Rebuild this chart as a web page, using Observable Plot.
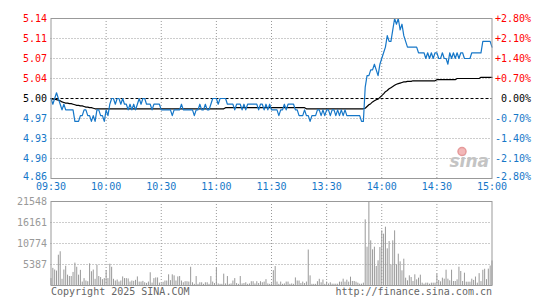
<!DOCTYPE html>
<html><head><meta charset="utf-8">
<script src="https://cdn.jsdelivr.net/npm/d3@7"></script>
<script src="https://cdn.jsdelivr.net/npm/@observablehq/plot@0.6"></script>
<style>
body{margin:0;background:#fff;}
#wrap{position:relative;width:545px;height:300px;overflow:hidden;background:#fff;font-family:"DejaVu Sans Mono",monospace;}
#c1{position:absolute;left:0;top:0;}
#c2{position:absolute;left:0;top:195px;}
.h{position:absolute;top:3px;font-size:10px;line-height:14px;white-space:nowrap;}
.sw{display:inline-block;width:10px;height:3px;vertical-align:middle;margin-right:5px;}
</style></head>
<body><div id="wrap">
<div class="h" style="left:50px">sz300332</div>
<div class="h" style="left:118px;font-family:'Noto Sans CJK SC';font-size:12px;">天壕能源</div>
<div class="h" style="left:200px;font-family:'Noto Sans CJK SC';font-size:12px;color:#1677c8"><span class="sw" style="background:#1677c8"></span>价格</div>
<div class="h" style="left:249px;font-family:'Noto Sans CJK SC';font-size:12px;color:#000"><span class="sw" style="background:#000"></span>均线</div>
<div class="h" style="right:54px">2025-06-26 15:00:00</div>
<div id="c1"></div><div id="c2"></div>
</div>
<script>
const blue = "#1677c8";
const timeTicks = [0,30,60,90,120,150,180,210,240];
const timeLabels = ["09:30","10:00","10:30","11:00","11:30","13:30","14:00","14:30","15:00"];
const priceTicks = [4.86,4.895,4.93,4.965,5.00,5.035,5.07,5.105,5.14];
const priceLabels = ["4.86","4.90","4.93","4.97","5.00","5.04","5.07","5.11","5.14"];
const pctLabels = ["-2.80%","-2.10%","-1.40%","-0.70%","0.00%","+0.70%","+1.40%","+2.10%","+2.80%"];
const prevClose = 5.00;
const volTicks = [5387,10774,16161,21548];

const price = [
5.00,4.99,5.00,5.01,5.00,4.99,4.98,4.99,4.98,4.98,
4.98,4.98,4.98,4.96,4.96,4.96,4.97,4.97,4.98,4.98,
4.97,4.97,4.96,4.97,4.96,4.98,4.98,4.97,4.97,4.96,
4.98,4.97,4.99,5.00,5.00,4.99,5.00,5.00,4.99,5.00,
4.99,4.99,4.98,4.99,4.98,4.99,4.98,4.99,5.00,4.99,
5.00,5.00,4.99,4.99,4.99,4.98,4.99,4.99,4.99,4.99,
4.98,4.98,4.98,4.98,4.98,4.98,4.97,4.98,4.98,4.98,
4.98,4.99,4.98,4.98,4.98,4.98,4.98,4.98,4.97,4.98,
4.98,4.99,4.98,4.98,4.99,4.98,4.98,4.99,5.00,5.00,
5.00,4.99,5.00,5.00,5.00,5.00,4.99,4.99,4.99,4.99,
4.98,4.99,4.99,4.99,4.98,4.99,4.98,4.99,4.99,4.99,
4.99,4.99,4.99,4.98,4.99,4.99,4.98,4.99,4.98,4.99,
4.98,4.98,4.98,4.98,4.97,4.98,4.98,4.99,4.98,4.99,
4.99,4.99,4.99,4.98,4.98,4.97,4.97,4.97,4.98,4.97,
4.97,4.96,4.97,4.97,4.97,4.98,4.98,4.97,4.98,4.97,
4.98,4.98,4.97,4.98,4.98,4.97,4.98,4.97,4.98,4.97,
4.98,4.97,4.97,4.97,4.97,4.97,4.97,4.97,4.97,4.96,
4.96,5.02,5.04,5.04,5.05,5.05,5.06,5.05,5.04,5.06,
5.07,5.08,5.09,5.11,5.10,5.10,5.12,5.14,5.13,5.14,
5.12,5.13,5.11,5.10,5.09,5.09,5.09,5.09,5.09,5.09,
5.08,5.08,5.08,5.08,5.07,5.08,5.07,5.08,5.07,5.08,
5.08,5.07,5.07,5.08,5.07,5.07,5.06,5.08,5.07,5.08,
5.07,5.08,5.07,5.08,5.08,5.07,5.07,5.07,5.07,5.08,
5.08,5.08,5.08,5.08,5.08,5.10,5.10,5.10,5.10,5.10,
5.09
];

const avg = [
5.000,4.999,4.999,4.998,4.997,4.996,4.994,4.993,4.992,4.992,
4.991,4.991,4.990,4.989,4.988,4.988,4.987,4.987,4.986,4.985,
4.985,4.984,4.984,4.983,4.982,4.982,4.982,4.982,4.982,4.982,
4.982,4.982,4.982,4.982,4.982,4.982,4.982,4.982,4.982,4.982,
4.982,4.982,4.982,4.982,4.982,4.982,4.982,4.982,4.982,4.982,
4.982,4.982,4.982,4.982,4.982,4.982,4.982,4.982,4.982,4.982,
4.982,4.982,4.982,4.982,4.982,4.982,4.982,4.982,4.982,4.982,
4.982,4.982,4.982,4.982,4.982,4.982,4.982,4.982,4.982,4.982,
4.982,4.982,4.982,4.982,4.982,4.982,4.982,4.982,4.982,4.982,
4.982,4.982,4.982,4.982,4.982,4.984,4.984,4.984,4.984,4.984,
4.984,4.984,4.984,4.984,4.984,4.984,4.984,4.984,4.984,4.984,
4.984,4.984,4.984,4.984,4.984,4.984,4.984,4.984,4.984,4.984,
4.984,4.984,4.984,4.984,4.984,4.984,4.984,4.984,4.984,4.984,
4.984,4.984,4.984,4.984,4.984,4.984,4.984,4.984,4.984,4.982,
4.982,4.982,4.982,4.982,4.982,4.982,4.982,4.982,4.982,4.982,
4.982,4.982,4.982,4.982,4.982,4.982,4.982,4.982,4.982,4.982,
4.982,4.982,4.982,4.982,4.982,4.982,4.982,4.982,4.982,4.982,
4.982,4.983,4.986,4.989,4.991,4.994,4.996,4.998,4.999,5.002,
5.005,5.008,5.012,5.014,5.017,5.019,5.021,5.023,5.025,5.026,
5.027,5.028,5.029,5.029,5.030,5.030,5.030,5.031,5.031,5.031,
5.031,5.031,5.031,5.031,5.031,5.031,5.031,5.031,5.031,5.031,
5.033,5.033,5.033,5.033,5.033,5.033,5.033,5.033,5.033,5.033,
5.033,5.035,5.035,5.035,5.035,5.035,5.035,5.035,5.035,5.035,
5.035,5.035,5.035,5.035,5.037,5.037,5.037,5.037,5.037,5.037,
5.037
];

const volume = [
1770,4400,3970,3700,7770,8650,1590,3970,4940,2650,
2300,2300,3350,5740,4680,2650,3880,880,1770,1150,
970,5560,3530,3970,1590,5210,2300,2030,1500,1770,
3800,1770,5470,4680,1590,1150,1410,880,1150,2200,
1770,1770,1680,880,1150,1060,1320,2200,880,880,
1060,700,530,880,3270,620,1770,1940,1940,620,
440,800,1150,1150,2740,1240,2740,2470,1150,2200,
2300,1150,700,970,970,880,4680,700,300,2300,
300,700,700,300,700,700,300,2300,880,500,
4400,400,300,300,2910,400,2300,300,400,1150,
1770,500,300,2300,400,500,700,300,400,970,
970,400,970,500,970,700,880,1500,400,300,
400,3800,4860,880,300,880,300,400,880,880,
300,400,300,1940,1150,1150,500,880,500,880,
9100,2470,300,300,300,970,1590,700,1410,300,
880,400,700,340,340,340,340,855,855,1620,
855,1370,855,2140,1030,1030,855,600,340,340,
600,16840,9830,21548,11460,9150,9830,4870,6330,9750,
14020,13170,14960,9400,11290,5300,11460,14020,5300,8040,
6070,3760,6750,1880,1200,2480,2050,1030,2740,1450,
1880,2650,600,340,600,600,340,600,600,600,
2900,1280,940,1880,1620,3930,1620,1200,3930,1030,
1030,1450,4700,3590,1030,3160,850,850,850,1620,
1300,2170,600,3040,1000,3900,4170,1500,4200,5000,
6300
];

const F = "DejaVu Sans Mono";
const grid = {stroke:"#9a9a9a", strokeOpacity:1, strokeDasharray:"1,2"};

const priceColor = v => v > prevClose ? "#ff0000" : v < prevClose ? blue : "#000";
const edgeDy = v => v === 4.86 ? -2 : v === 5.14 ? 0 : 0;

const c1 = Plot.plot({
  width:545, height:195,
  marginLeft:50.5, marginRight:53.5, marginTop:18, marginBottom:17,
  style:{fontFamily:F, fontSize:"10px", background:"#fff", overflow:"visible"},
  x:{domain:[0,240], axis:null},
  y:{domain:[4.86,5.14], axis:null},
  marks:[
    Plot.gridX(timeTicks.slice(1,-1), grid),
    Plot.gridY(priceTicks.filter(t => t !== prevClose && t!==4.86 && t!==5.14), grid),
    Plot.ruleY([prevClose], {stroke:"#000", strokeDasharray:"3,2"}),
    Plot.text(["sina"], {frameAnchor:"bottom-right", dx:-3, dy:-12, fontSize:17, fontWeight:"bold", fontStyle:"italic", fontFamily:"DejaVu Sans", fill:"#c4c4c4", textAnchor:"end"}),
    Plot.dot([0], {frameAnchor:"bottom-right", dx:-30, dy:-27, r:4, fill:"#f3b8b8", stroke:"#e59a9a"}),
    Plot.line(avg, {x:(d,i)=>i, y:d=>d, stroke:"#000", strokeWidth:1.2}),
    Plot.line(price, {x:(d,i)=>i, y:d=>d, stroke:blue, strokeWidth:1.2}),
    Plot.frame({stroke:"#999"}),
    Plot.text(priceTicks.slice(1), {frameAnchor:"left", y:d=>d, text:(d,i)=>priceLabels[i+1], textAnchor:"end", dx:-4, fill:priceColor, fontFamily:F, fontSize:10}),
    Plot.text(priceTicks.slice(0,1), {frameAnchor:"left", y:d=>d, text:d=>priceLabels[0], textAnchor:"end", dx:-4, dy:-2, fill:priceColor, fontFamily:F, fontSize:10}),
    Plot.text(priceTicks.slice(1), {frameAnchor:"right", y:d=>d, text:(d,i)=>pctLabels[i+1], textAnchor:"end", dx:39, fill:priceColor, fontFamily:F, fontSize:10}),
    Plot.text(priceTicks.slice(0,1), {frameAnchor:"right", y:d=>d, text:d=>pctLabels[0], textAnchor:"end", dx:39, dy:-2, fill:priceColor, fontFamily:F, fontSize:10}),
    Plot.text(timeTicks, {frameAnchor:"bottom", x:d=>d, text:(d,i)=>timeLabels[i], dy:11, fill:blue, fontFamily:F, fontSize:10})
  ]
});
document.getElementById("c1").appendChild(c1);

const c2 = Plot.plot({
  width:545, height:105,
  marginLeft:50.5, marginRight:53.5, marginTop:6, marginBottom:15,
  style:{fontFamily:F, fontSize:"10px", background:"transparent", overflow:"visible"},
  x:{domain:[0,240], axis:null},
  y:{domain:[0,21548], axis:null},
  marks:[
    Plot.gridX(timeTicks.slice(1,-1), grid),
    Plot.gridY(volTicks.slice(0,-1), grid),
    Plot.ruleX(volume, {x:(d,i)=>i, y1:0, y2:d=>d, stroke:"#999", strokeWidth:1}),
    Plot.frame({stroke:"#999"}),
    Plot.text(volTicks, {frameAnchor:"left", y:d=>d, text:d=>String(d), textAnchor:"end", dx:-4, fill:"#999", fontFamily:F, fontSize:10}),
    Plot.text(["Copyright 2025 SINA.COM"], {frameAnchor:"bottom-left", textAnchor:"start", dy:9, fill:"#666", fontFamily:F, fontSize:10}),
    Plot.text(["http://finance.sina.com.cn"], {frameAnchor:"bottom-right", textAnchor:"end", dy:9, fill:"#666", fontFamily:F, fontSize:10})
  ]
});
document.getElementById("c2").appendChild(c2);
</script>
</body></html>
